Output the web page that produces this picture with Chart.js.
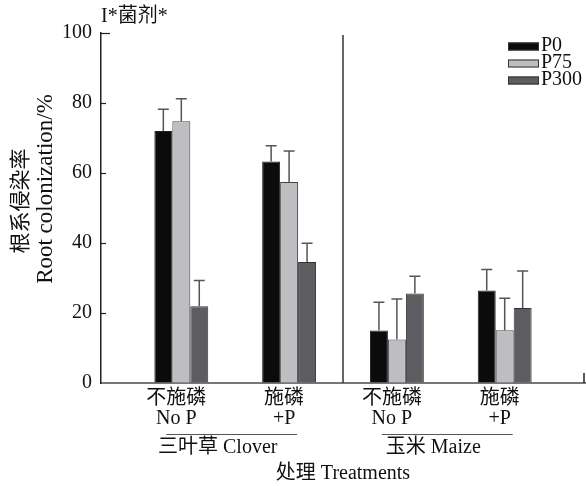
<!DOCTYPE html>
<html>
<head>
<meta charset="utf-8">
<script src="https://cdn.jsdelivr.net/npm/chart.js@4.4.0/dist/chart.umd.min.js"></script>
<style>
  html, body { margin: 0; padding: 0; background: #fff; }
</style>
</head>
<body>
<canvas id="grafico" width="586" height="486"></canvas>
<script>
// dados
const tratamentos = [['不施磷', 'No P'], ['施磷', '+P'], ['不施磷', 'No P'], ['施磷', '+P']];
const culturas = ['三叶草 Clover', '玉米 Maize'];
const series = ['P0', 'P75', 'P300'];
const p0 = [72, 63.3, 15, 26.4];
const p75 = [74.8, 57.4, 12.4, 15.1];
const p300 = [21.9, 34.6, 25.6, 21.4];
const erroP0 = [6.2, 4.5, 8.1, 6.0];
const erroP75 = [6.4, 8.9, 11.6, 9.1];
const erroP300 = [7.4, 5.3, 4.9, 10.6];
const yTicks = [0, 20, 40, 60, 80, 100];
const tituloY = ['根系侵染率', 'Root colonization/%'];

const FONTE = '"Liberation Serif", "Noto Sans CJK SC", serif';
const cores = ['#0b0b0b', '#bebdc2', '#5d5d61'];
const erros = [erroP0, erroP75, erroP300];

const pontos = arr => arr.map((v, i) => ({ x: i, y: v }));

// barras de erro (só para cima)
const barrasErro = {
  id: 'barrasErro',
  afterDatasetsDraw(chart) {
    const { ctx } = chart;
    const y = chart.scales.y;
    ctx.save();
    ctx.strokeStyle = '#555';
    ctx.lineWidth = 1.5;
    chart.data.datasets.forEach((ds, d) => {
      chart.getDatasetMeta(d).data.forEach((bar, i) => {
        const topo = y.getPixelForValue(ds.data[i].y + erros[d][i]);
        ctx.beginPath();
        ctx.moveTo(bar.x, bar.y);
        ctx.lineTo(bar.x, topo);
        ctx.moveTo(bar.x - 5.5, topo);
        ctx.lineTo(bar.x + 5.5, topo);
        ctx.stroke();
      });
    });
    ctx.restore();
  }
};

// título, legenda, divisória e rótulos dos grupos
const extras = {
  id: 'extras',
  afterDraw(chart) {
    const { ctx, chartArea: a } = chart;
    const x = chart.scales.x, y = chart.scales.y;
    ctx.save();
    ctx.fillStyle = '#111';
    ctx.font = '20px ' + FONTE;
    ctx.textBaseline = 'middle';
    ctx.textAlign = 'left';
    ctx.fillText('I*菌剂*', a.left, 17);

    // título do eixo y (duas linhas, rodado)
    ctx.save();
    ctx.textAlign = 'center';
    ctx.translate(21, 201);
    ctx.rotate(-Math.PI / 2);
    ctx.font = '21px ' + FONTE;
    ctx.fillText(tituloY[0], 0, 0);
    ctx.restore();
    ctx.save();
    ctx.textAlign = 'center';
    ctx.translate(46, 189);
    ctx.rotate(-Math.PI / 2);
    ctx.font = '23px ' + FONTE;
    ctx.fillText(tituloY[1], 0, 0);
    ctx.restore();

    // marcas internas do eixo y
    ctx.strokeStyle = '#222';
    ctx.lineWidth = 1.2;
    yTicks.forEach(v => {
      if (v === 0) return;
      const py = Math.round(y.getPixelForValue(v)) + 0.5;
      ctx.beginPath();
      ctx.moveTo(a.left, py);
      ctx.lineTo(a.left + (v === 100 ? 9 : 5), py);
      ctx.stroke();
    });
    // marca no fim do eixo x
    ctx.lineWidth = 1.5;
    ctx.beginPath();
    ctx.moveTo(a.right - 1, a.bottom - 10);
    ctx.lineTo(a.right - 1, a.bottom);
    ctx.stroke();

    // divisória entre culturas
    const xd = x.getPixelForValue(1.5);
    ctx.strokeStyle = '#333';
    ctx.lineWidth = 1.5;
    ctx.beginPath();
    ctx.moveTo(xd, a.top + 2);
    ctx.lineTo(xd, a.bottom);
    ctx.stroke();

    // linhas e nomes dos grupos
    ctx.strokeStyle = '#555';
    ctx.lineWidth = 1.2;
    ctx.textAlign = 'center';
    culturas.forEach((c, g) => {
      const x0 = x.getPixelForValue(g * 2) - 15;
      const x1 = x.getPixelForValue(g * 2 + 1) + 8;
      ctx.beginPath();
      ctx.moveTo(x0, 434.5);
      ctx.lineTo(x1, 434.5);
      ctx.stroke();
      ctx.fillText(c, (x0 + x1) / 2 - 14, 448);
    });

    // legenda
    ctx.textAlign = 'left';
    ctx.textBaseline = 'alphabetic';
    chart.data.datasets.forEach((ds, d) => {
      const topo = 42.5 + d * 17;
      ctx.fillStyle = ds.backgroundColor;
      ctx.fillRect(508, topo, 31, 8);
      ctx.strokeStyle = '#333';
      ctx.lineWidth = 1;
      ctx.strokeRect(508.5, topo + 0.5, 30, 7);
      ctx.fillStyle = '#111';
      ctx.fillText(ds.label, 541, topo + 8.5);
    });
    ctx.restore();
  }
};

const ctx = document.getElementById('grafico').getContext('2d');
const chart = new Chart(ctx, {
  type: 'bar',
  data: {
    datasets: [
      { label: series[0], data: pontos(p0), backgroundColor: cores[0], borderColor: '#222', borderWidth: 1 },
      { label: series[1], data: pontos(p75), backgroundColor: cores[1], borderColor: '#444', borderWidth: 1 },
      { label: series[2], data: pontos(p300), backgroundColor: cores[2], borderColor: '#333', borderWidth: 1 }
    ]
  },
  options: {
    responsive: false,
    animation: false,
    devicePixelRatio: 1,
    layout: { padding: { top: 33, right: 1, left: 0, bottom: 0 } },
    datasets: { bar: { categoryPercentage: 0.5, barPercentage: 1 } },
    plugins: { legend: { display: false }, tooltip: { enabled: false } },
    scales: {
      x: {
        type: 'linear',
        min: -0.745,
        max: 3.745,
        offset: false,
        afterFit: s => { s.height = 103; },
        grid: { display: true, drawOnChartArea: false, drawTicks: false, offset: false },
        border: { color: '#777', width: 2 },
        ticks: {
          stepSize: 1,
          includeBounds: false,
          autoSkip: false,
          maxRotation: 0,
          padding: 6,
          labelOffset: -5,
          color: '#111',
          font: { family: FONTE, size: 20, lineHeight: 1.0 },
          callback: v => (Number.isInteger(v) && tratamentos[v]) ? tratamentos[v] : ''
        },
        title: {
          display: true,
          text: '处理 Treatments',
          color: '#111',
          font: { family: FONTE, size: 20, lineHeight: 1.2 },
          padding: { top: 0, bottom: 0 }
        }
      },
      y: {
        min: 0,
        max: 100,
        afterFit: s => { s.width = 101; },
        grid: { display: true, drawOnChartArea: false, drawTicks: false },
        border: { color: '#222', width: 1.5 },
        ticks: {
          stepSize: 20,
          padding: 9,
          color: '#111',
          font: { family: FONTE, size: 20 }
        },
        title: { display: false }
      }
    }
  },
  plugins: [barrasErro, extras]
});
</script>
</body>
</html>
